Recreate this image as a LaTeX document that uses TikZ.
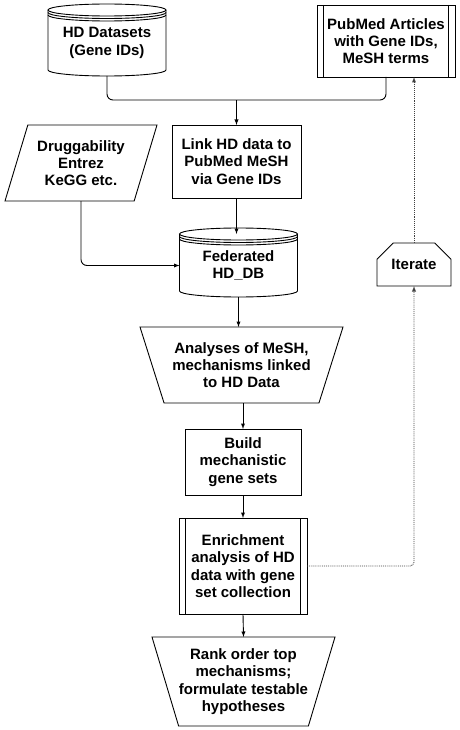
\documentclass[tikz,border=0pt]{standalone}
\usepackage{fontspec}
\setmainfont{Liberation Sans}
\usetikzlibrary{shapes.geometric,shapes.misc}
% stacked data store drawn round a plain node
\newcommand{\drawstore}[1]{%
\draw (#1.north) ellipse [x radius=59pt, y radius=6pt];
\draw ([yshift=-2.5pt]#1.north west) arc [start angle=180, end angle=360, x radius=59pt, y radius=6pt];
\draw ([yshift=-5pt]#1.north west) arc [start angle=180, end angle=360, x radius=59pt, y radius=6pt];
\draw (#1.north west) -- ([yshift=6pt]#1.south west) arc [start angle=180, end angle=360, x radius=59pt, y radius=6pt] -- (#1.north east);
}
\tikzset{
txt/.style={font=\fontsize{15}{17.3}\selectfont\bfseries, align=center, inner sep=1pt, outer sep=0pt},
store/.style={txt, minimum width=118pt},
stepbox/.style={txt, draw, rectangle},
procbox/.style={stepbox, path picture={
\draw ([xshift=6.5pt]path picture bounding box.north west) -- ([xshift=6.5pt]path picture bounding box.south west)
([xshift=-6.5pt]path picture bounding box.north east) -- ([xshift=-6.5pt]path picture bounding box.south east);}},
iobox/.style={txt, draw, trapezium, trapezium left angle=63.4, trapezium right angle=116.6, trapezium stretches body, inner sep=0pt},
manual/.style={txt, draw, trapezium, shape border rotate=180, trapezium stretches body, inner sep=0pt},
loopbox/.style={txt, draw, chamfered rectangle, chamfered rectangle corners={north west,north east}, chamfered rectangle xsep=15pt, chamfered rectangle ysep=10pt}
}
\begin{document}
\begin{tikzpicture}[x=1pt, y=1pt, line width=0.9pt]
\useasboundingbox (0,0) rectangle (459,-730);
\node[store, minimum height=66pt] (hd) at (107,-43) {HD Datasets\\(Gene IDs)};
\drawstore{hd}
\node[procbox, minimum width=138pt, minimum height=72pt] (pub) at (386,-41) {PubMed Articles\\with Gene IDs,\\MeSH terms};
\node[iobox, minimum width=152pt, minimum height=76pt] (drug) at (81,-163) {Druggability\\Entrez\\KeGG etc.};
\node[stepbox, minimum width=129pt, minimum height=73pt] (link) at (236.5,-161.5) {Link HD data to\\PubMed MeSH\\via Gene IDs};
\node[store, minimum height=63pt] (fed) at (238.5,-265.5) {Federated\\HD\_DB};
\drawstore{fed}
\node[loopbox, minimum width=74pt, minimum height=43pt] (iter) at (414,-264.5) {Iterate};
\node[manual, trapezium angle=62.2, minimum width=203pt, minimum height=76pt] (ana) at (241.5,-365) {Analyses of MeSH,\\mechanisms linked\\to HD Data};
\node[stepbox, minimum width=116pt, minimum height=66pt] (build) at (243,-462) {Build\\mechanistic\\gene sets};
\node[procbox, minimum width=128pt, minimum height=96pt] (enr) at (243,-566) {Enrichment\\analysis of HD\\data with gene\\set collection};
\node[manual, trapezium angle=68, minimum width=183pt, minimum height=89pt] (rank) at (243.5,-681.5) {Rank order top\\mechanisms;\\formulate testable\\hypotheses};
\coordinate (join) at (236.5,-100);
\draw[rounded corners=6pt] (hd.south) |- (join);
\draw[rounded corners=6pt] (pub.south) |- (join);
\draw[-latex] (join) -- (link.north);
\draw[-latex] (link.south) -- (link.south |- fed.north);
\draw[-latex, rounded corners=6pt] (drug.south) |- (fed.west);
\draw[-latex] (fed.south) -- (fed.south |- ana.north);
\draw[-latex] (build.north |- ana.south) -- (build.north);
\draw[-latex] (build.south) -- (enr.north);
\draw[-latex] (enr.south) -- (rank.north);
\draw[-latex, densely dotted, black!75, rounded corners=4pt] (enr.east) -| (iter.south);
\draw[-latex, densely dotted, black!75] (iter.north) -- (iter.north |- pub.south);
\end{tikzpicture}
\end{document}
